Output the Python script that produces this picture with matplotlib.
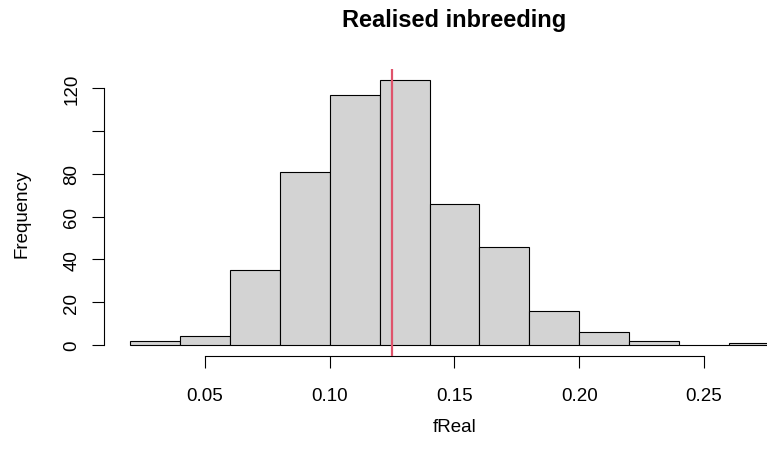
import matplotlib
matplotlib.use("Agg")
import matplotlib.pyplot as plt

# histogram of realised inbreeding (fReal), breaks every 0.02
bin_edges = [0.02, 0.04, 0.06, 0.08, 0.10, 0.12, 0.14, 0.16, 0.18, 0.20,
             0.22, 0.24, 0.26, 0.28]
counts = [2, 4, 35, 81, 117, 124, 66, 46, 16, 6, 2, 0, 1]
ref_line = 0.125
x_ticks = [0.05, 0.10, 0.15, 0.20, 0.25]
x_ticklabels = ["0.05", "0.10", "0.15", "0.20", "0.25"]
y_ticks = [0, 20, 40, 60, 80, 100, 120]
y_ticklabels = ["0", "20", "40", "60", "80", "", "120"]

plt.rcParams["font.family"] = ["Liberation Sans", "DejaVu Sans"]

W, H = 767, 452
fig = plt.figure(figsize=(W / 100, H / 100), dpi=100)
# plot region in pixels (R style, 4% padding), right side runs off the image
left, right, top, bottom = 104.2, 804.8, 70.2, 356.6
ax = fig.add_axes([left / W, (H - bottom) / H, (right - left) / W, (bottom - top) / H])

lefts = bin_edges[:-1]
widths = [b - a for a, b in zip(bin_edges[:-1], bin_edges[1:])]
ax.bar(lefts, counts, width=widths, align="edge", color="#D3D3D3",
       edgecolor="black", linewidth=0.8, zorder=2)
ax.axvline(ref_line, color="#DF536B", lw=1.6, zorder=3)

span_x = bin_edges[-1] - bin_edges[0]
ax.set_xlim(bin_edges[0] - 0.04 * span_x, bin_edges[-1] + 0.04 * span_x)
ymax = max(counts)
ax.set_ylim(-0.04 * ymax, ymax * 1.04)

for s in ("top", "right"):
    ax.spines[s].set_visible(False)
ax.spines["bottom"].set_bounds(x_ticks[0], x_ticks[-1])
ax.spines["left"].set_bounds(y_ticks[0], y_ticks[-1])
for s in ("bottom", "left"):
    ax.spines[s].set_linewidth(0.8)

ax.set_xticks(x_ticks)
ax.set_xticklabels(x_ticklabels)
ax.set_yticks(y_ticks)
ax.set_yticklabels(y_ticklabels, rotation=90, va="center")
ax.tick_params(axis="both", length=8.6, width=0.8, labelsize=13.5)
ax.tick_params(axis="x", pad=14)
ax.tick_params(axis="y", pad=8.5)

fig.text((left + right) / 2 / W, 1 - 21 / H, "Realised inbreeding",
         ha="center", va="center", fontsize=17, fontweight="bold")
fig.text((left + right) / 2 / W, 1 - 428 / H, "fReal",
         ha="center", va="center", fontsize=13.5)
fig.text(22 / W, 1 - ((top + bottom) / 2) / H, "Frequency",
         ha="center", va="center", rotation=90, fontsize=13.5)

fig.savefig("out.png", dpi=100)
